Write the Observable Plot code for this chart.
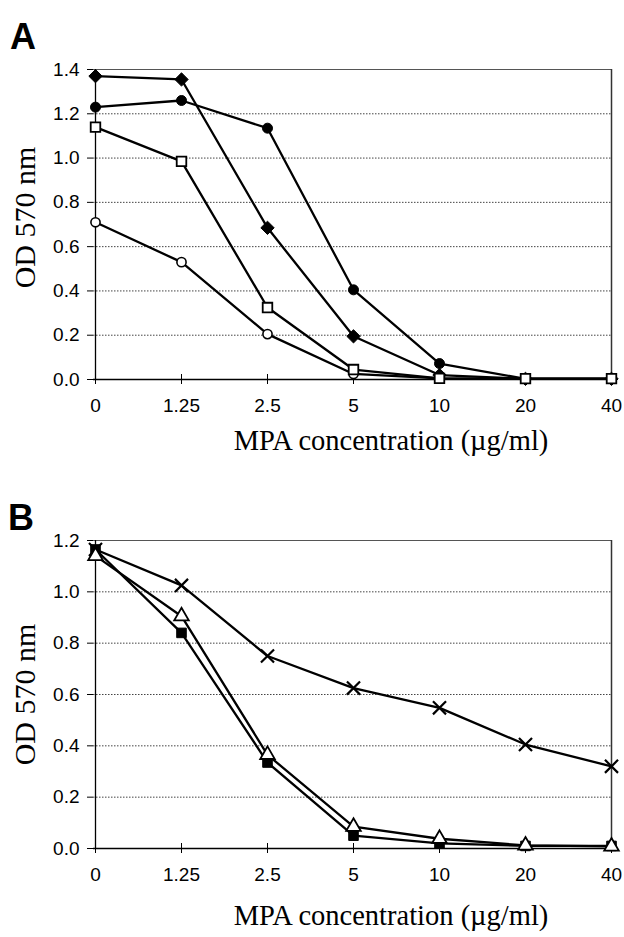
<!DOCTYPE html>
<html>
<head>
<meta charset="utf-8">
<script src="https://cdn.jsdelivr.net/npm/d3@7"></script>
<script src="https://cdn.jsdelivr.net/npm/@observablehq/plot@0.6"></script>
<style>
  html, body { margin: 0; padding: 0; background: #fff; }
  #wrap { position: relative; width: 624px; height: 937px; overflow: hidden; }
  .letter { position: absolute; z-index: 5; font-family: "Liberation Sans", Arial, sans-serif; font-weight: bold; font-size: 36px; line-height: 1; }
  .panel { position: absolute; left: 0; z-index: 1; }
</style>
</head>
<body>
<div id="wrap">
  <div class="panel" id="pA" style="top:0px;"></div>
  <div class="panel" id="pB" style="top:470px;"></div>
  <div class="letter" style="left:10px; top:19px;">A</div>
  <div class="letter" style="left:8px; top:500px;">B</div>
</div>
<script>
// ---- data ----
const concentrations = ["0", "1.25", "2.5", "5", "10", "20", "40"];

// Panel A
const A_filledDiamond = [1.37, 1.355, 0.685, 0.195, 0.02, 0.003, 0.003];
const A_filledCircle  = [1.23, 1.26, 1.135, 0.405, 0.072, 0.003, 0.003];
const A_openCircle    = [0.71, 0.53, 0.205, 0.025, 0.005, 0.003, 0.003];
const A_openSquare    = [1.14, 0.985, 0.325, 0.045, 0.005, 0.004, 0.004];

// Panel B
const B_cross         = [1.165, 1.025, 0.75, 0.625, 0.548, 0.405, 0.32];
const B_filledSquare  = [1.165, 0.84, 0.335, 0.05, 0.02, 0.01, 0.01];
const B_openTriangle  = [1.14, 0.905, 0.365, 0.085, 0.038, 0.012, 0.008];

const yTicksA = [0, 0.2, 0.4, 0.6, 0.8, 1.0, 1.2, 1.4];
const yTicksB = [0, 0.2, 0.4, 0.6, 0.8, 1.0, 1.2];

const xTitle = "MPA concentration (\u00b5g/ml)";
const yTitle = "OD 570 nm";

// ---- helpers ----
function rows(values, name) {
  return concentrations.map((c, i) => ({conc: c, od: values[i], series: name}));
}

const sansFont = "'Liberation Sans', Arial, sans-serif";
const serifFont = "'Liberation Serif', 'Times New Roman', serif";

function panel(seriesList, yTicks, height, mTop, mBottom, yTitleDy, xTitleDy) {
  const yMax = yTicks[yTicks.length - 1];
  const all = seriesList.flatMap(s => rows(s.values, s.name));
  const marks = [
    Plot.gridY(yTicks.filter(t => t > 0 && t < yMax), {stroke: "#444", strokeOpacity: 1, strokeWidth: 1, strokeDasharray: "1.5,1.5"}),
    Plot.ruleY([yMax], {stroke: "#555", strokeWidth: 1.2}),
    Plot.ruleX([concentrations[concentrations.length - 1]], {stroke: "#333", strokeWidth: 1.5}),
    Plot.ruleX([concentrations[0]], {stroke: "#000", strokeWidth: 1.3}),
    Plot.ruleY([0], {stroke: "#000", strokeWidth: 1.3}),
    Plot.axisY({ticks: yTicks, tickSize: 6, tickPadding: 8, tickFormat: d => d.toFixed(1), fontSize: 19, fontFamily: sansFont, fill: "#000", label: null}),
    Plot.axisX({tickSize: 5, tickPadding: 14, fontSize: 19, fontFamily: sansFont, fill: "#000", label: null}),
    Plot.axisX({tickSize: -5, text: null, label: null}),
    Plot.line(all, {x: "conc", y: "od", z: "series", stroke: "#000", strokeWidth: 2.3})
  ];
  for (const s of seriesList) {
    marks.push(Plot.dot(rows(s.values, s.name), {x: "conc", y: "od", symbol: s.symbol, r: s.r, fill: s.fill, stroke: "#000", strokeWidth: s.sw}));
  }
  marks.push(Plot.text([xTitle], {frameAnchor: "bottom", textAnchor: "middle", dx: 38, dy: xTitleDy, text: d => d, fontSize: "28.5px", fontFamily: serifFont, fill: "#000", lineAnchor: "bottom"}));
  marks.push(Plot.text([yTitle], {frameAnchor: "left", textAnchor: "middle", dx: -68, dy: yTitleDy, rotate: -90, text: d => d, fontSize: "30px", fontFamily: serifFont, fill: "#000"}));
  return Plot.plot({
    width: 624,
    height: height,
    marginTop: mTop,
    marginBottom: mBottom,
    marginLeft: 93,
    marginRight: 12,
    style: {background: "#fff", color: "#000", overflow: "visible", fontSize: "19px", fontFamily: sansFont},
    x: {type: "point", domain: concentrations, padding: 0},
    y: {domain: [0, yMax]},
    marks
  });
}

const chartA = panel([
  {name: "filledDiamond", values: A_filledDiamond, symbol: "diamond2", r: 6, fill: "#000", sw: 1},
  {name: "filledCircle", values: A_filledCircle, symbol: "circle", r: 5, fill: "#000", sw: 1},
  {name: "openCircle", values: A_openCircle, symbol: "circle", r: 4.6, fill: "#fff", sw: 1.6},
  {name: "openSquare", values: A_openSquare, symbol: "square", r: 5.4, fill: "#fff", sw: 1.8}
], yTicksA, 470, 69, 91, -7, 70);
document.getElementById("pA").appendChild(chartA);

const chartB = panel([
  {name: "cross", values: B_cross, symbol: "times", r: 6, fill: "none", sw: 2.2},
  {name: "filledSquare", values: B_filledSquare, symbol: "square", r: 5.4, fill: "#000", sw: 1},
  {name: "openTriangle", values: B_openTriangle, symbol: "triangle", r: 5.4, fill: "#fff", sw: 1.8}
], yTicksB, 467, 70, 89, 0, 76);
document.getElementById("pB").appendChild(chartB);
</script>
</body>
</html>
